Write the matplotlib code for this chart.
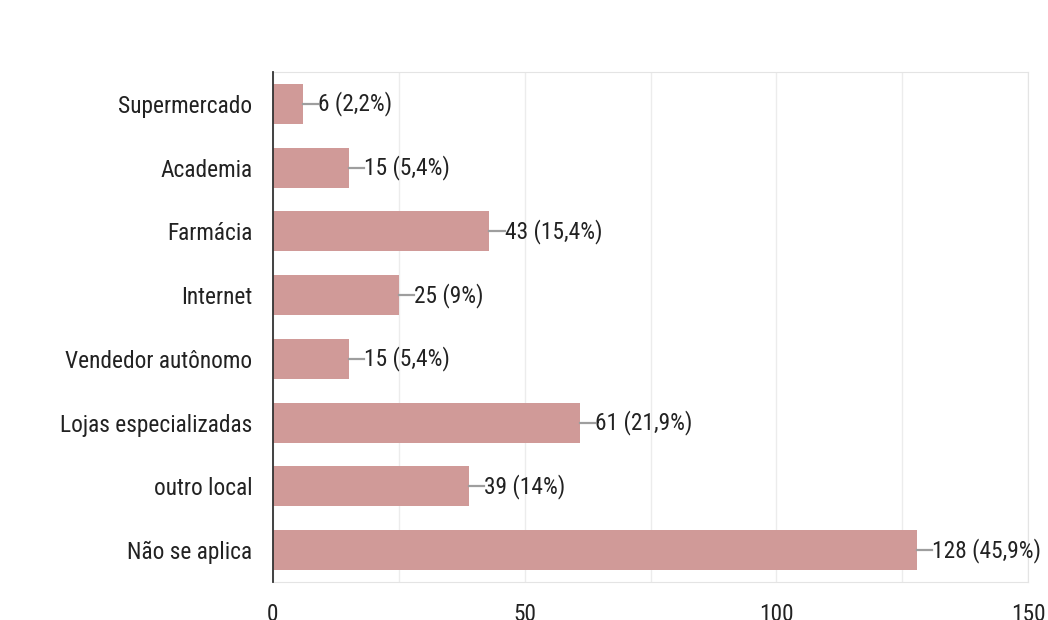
import matplotlib
matplotlib.use("Agg")
import matplotlib.pyplot as plt

plt.rcParams["font.family"] = ["Roboto Condensed", "Open Sans Condensed", "Barlow Condensed", "DejaVu Sans"]

categories = ["Supermercado", "Academia", "Farmácia", "Internet",
              "Vendedor autônomo", "Lojas especializadas", "outro local", "Não se aplica"]
counts = [6, 15, 43, 25, 15, 61, 39, 128]
percents = ["2,2", "5,4", "15,4", "9", "5,4", "21,9", "14", "45,9"]
x_ticks = [0, 50, 100, 150]

bar_color = "#d09a98"
text_color = "#222222"
fs = 16.8

fig = plt.figure(figsize=(10.48, 6.2), dpi=100)
ax = fig.add_axes([273 / 1048, 1 - 582 / 620, (1028 - 273) / 1048, (582 - 72) / 620])

ypos = list(range(len(categories)))
ax.barh(ypos, counts, height=0.63, color=bar_color, edgecolor="none", zorder=3)
ax.set_ylim(len(categories) - 0.5, -0.5)
ax.set_xlim(0, 150)

# value labels with a short grey leader
for y, c, p in zip(ypos, counts, percents):
    ax.plot([c, c + 3.0], [y, y], color="#9e9e9e", lw=1.6, zorder=3, clip_on=False)
    ax.text(c + 3.0, y, f"{c} ({p}%)", va="center", ha="left",
            fontsize=fs, color=text_color, clip_on=False)

ax.set_yticks(ypos)
ax.set_yticklabels(categories, fontsize=fs, color=text_color)
ax.set_xticks(x_ticks)
ax.set_xticklabels([str(t) for t in x_ticks], fontsize=fs, color=text_color)
ax.set_xticks(range(0, 151, 25), minor=True)
ax.tick_params(axis="both", which="both", length=0)
ax.tick_params(axis="y", pad=15)
ax.tick_params(axis="x", pad=15)

ax.grid(axis="x", which="both", color="#ececec", lw=1, zorder=0)

for side in ("top", "right", "bottom"):
    ax.spines[side].set_color("#e4e4e4")
ax.spines["left"].set_color("#333333")
ax.spines["left"].set_linewidth(1.3)
ax.spines["left"].set_zorder(4)

fig.savefig("out.png", dpi=100)
